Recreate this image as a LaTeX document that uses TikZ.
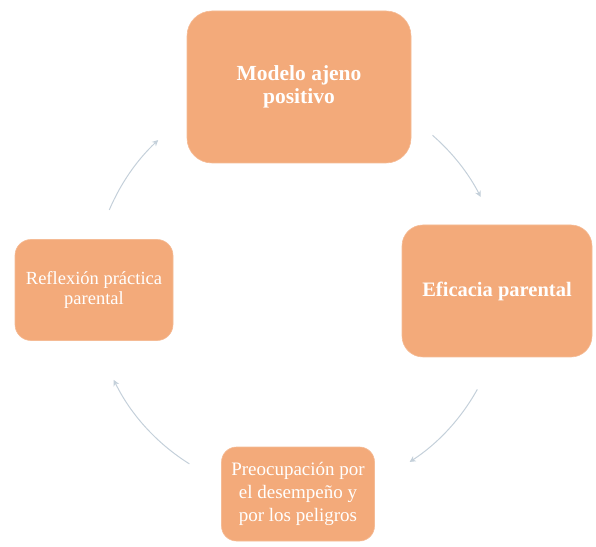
\documentclass[tikz,border=0pt]{standalone}
\usepackage{fontspec}
\setmainfont{Liberation Serif}
\usetikzlibrary{arrows.meta,calc}
\definecolor{boxfill}{RGB}{243,170,122}
\definecolor{arrowcol}{RGB}{196,208,218}
\tikzset{
  cyclebox/.style={fill=boxfill, draw=boxfill!80!white, line width=0.6pt, text=white, align=center, inner sep=0pt},
  cyclearrow/.style={draw=arrowcol, line width=1pt, -{Stealth[length=6pt,width=6pt]}}
}
\begin{document}
\begin{tikzpicture}[x=1pt,y=1pt]
\useasboundingbox (0,0) rectangle (596,546);
\node[cyclebox, minimum width=224pt, minimum height=152pt, rounded corners=25pt,
      font=\fontsize{21.5}{23}\selectfont\bfseries] (top) at (299,459) {Modelo ajeno\\positivo};
\node[cyclebox, minimum width=190pt, minimum height=132pt, rounded corners=21pt,
      font=\fontsize{20.5}{23}\selectfont\bfseries] (right) at (497,255) {Eficacia parental};
\node[cyclebox, minimum width=158pt, minimum height=101pt, rounded corners=16pt,
      font=\fontsize{18.5}{20}\selectfont] (left) at (94,256) {Reflexión práctica\\parental};
\node[cyclebox, minimum width=153pt, minimum height=94pt, rounded corners=15pt,
      font=\fontsize{19}{23}\selectfont] (bottom) at (298,52) {Preocupación por\\el desempeño y\\por los peligros};
\coordinate (c) at (298,256);
\coordinate (a1) at ($(c)+(157:205pt)$);
\coordinate (a2) at ($(c)+(49:205pt)$);
\coordinate (a3) at ($(c)+(-29:205pt)$);
\coordinate (a4) at ($(c)+(-122:205pt)$);
\draw[cyclearrow] (a1) arc[start angle=157, end angle=133, radius=205pt];
\draw[cyclearrow] (a2) arc[start angle=49, end angle=27, radius=205pt];
\draw[cyclearrow] (a3) arc[start angle=-29, end angle=-57, radius=205pt];
\draw[cyclearrow] (a4) arc[start angle=-122, end angle=-154, radius=205pt];
\end{tikzpicture}
\end{document}
